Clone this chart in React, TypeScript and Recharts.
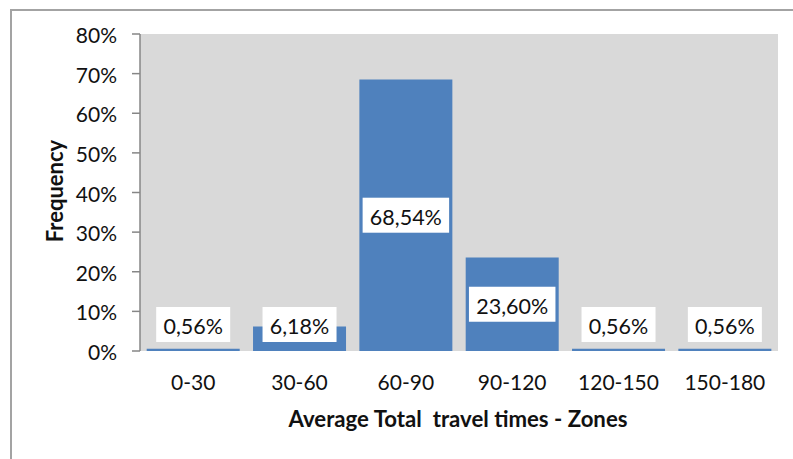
import React from 'react';
import { BarChart, Bar, XAxis, YAxis, CartesianGrid, LabelList, Label } from 'recharts';

// Travel-time zones and the share of trips falling in each
const CATEGORIES = ['0-30', '30-60', '60-90', '90-120', '120-150', '150-180'];
const FREQUENCY = [0.56, 6.18, 68.54, 23.6, 0.56, 0.56];
const Y_TICKS = [0, 10, 20, 30, 40, 50, 60, 70, 80];
// Zone boundaries (0..n) used for the tick marks between categories
const BOUNDARIES = [0, 1, 2, 3, 4, 5, 6];

const data = CATEGORIES.map((zone, i) => ({ zone, freq: FREQUENCY[i] }));

const FONT = 'Lato, "Open Sans", sans-serif';
const AXIS_GRAY = '#868686';
const BAR_BLUE = '#4f81bd';

const fmt = (v: number) => v.toFixed(2).replace('.', ',') + '%';

// rough text width for the label boxes (Lato 21.5px)
const textWidth = (s: string) => {
  let w = 0;
  for (const ch of s) {
    if (ch >= '0' && ch <= '9') w += 12.5;
    else if (ch === ',') w += 4.9;
    else if (ch === '%') w += 16.6;
    else w += 8;
  }
  return w;
};

const ValueLabel = (props: any) => {
  const { x, y, width, height, value } = props;
  const bottom = y + height;
  const cy = Math.min(y + height / 2, bottom - 26.5);
  const text = fmt(Number(value));
  const w = textWidth(text) + 15;
  const cx = x + width / 2;
  return (
    <g>
      <rect x={cx - w / 2} y={cy - 17.5} width={w} height={35} fill="#ffffff" />
      <text x={cx} y={cy + 9.5} textAnchor="middle" fontFamily={FONT} fontSize={21.5} fill="#111">
        {text}
      </text>
    </g>
  );
};

const XTick = (props: any) => {
  const { x, y, payload } = props;
  return (
    <text x={x} y={y + 39} textAnchor="middle" fontFamily={FONT} fontSize={21} fill="#111">
      {payload.value}
    </text>
  );
};

const YTick = (props: any) => {
  const { x, y, payload } = props;
  return (
    <text x={x} y={y + 9} textAnchor="end" fontFamily={FONT} fontSize={21} fill="#111">
      {payload.value}%
    </text>
  );
};

const EmptyTick = () => <g />;

export default function App() {
  return (
    <div style={{ position: 'absolute', left: 0, top: 0, width: 793, height: 459, background: '#fff', overflow: 'hidden' }}>
      <div
        style={{
          position: 'absolute',
          left: 10,
          top: 8.5,
          width: 820,
          height: 480,
          borderLeft: '2px solid #a3a3a3',
          borderTop: '2px solid #a3a3a3',
        }}
      />
      <BarChart
        width={793}
        height={459}
        data={data}
        margin={{ top: 34, right: 15, bottom: 0, left: 0 }}
        barCategoryGap="6.3%"
        style={{ position: 'absolute', left: 0, top: 0 }}
      >
        <CartesianGrid horizontal={false} vertical={false} fill="#d9d9d9" stroke="none" />
        <XAxis
          xAxisId="grid"
          type="number"
          domain={[0, CATEGORIES.length]}
          ticks={BOUNDARIES}
          allowDataOverflow
          height={0}
          tickSize={8}
          tick={EmptyTick}
          axisLine={{ stroke: AXIS_GRAY, strokeWidth: 1.5 }}
          tickLine={{ stroke: AXIS_GRAY, strokeWidth: 1.5 }}
        />
        <XAxis
          xAxisId="cat"
          dataKey="zone"
          height={108}
          interval={0}
          tickSize={0}
          tickMargin={0}
          axisLine={false}
          tickLine={false}
          tick={XTick}
        >
          <Label
            content={(p: any) => {
              const vb = p.viewBox;
              return (
                <text
                  x={vb.x + vb.width / 2 - 1}
                  y={vb.y + 75.5}
                  textAnchor="middle"
                  fontFamily={FONT}
                  fontWeight={700}
                  fontSize={22.2}
                  fill="#111"
                >
                  Average Total{'\u00a0'} travel times - Zones
                </text>
              );
            }}
          />
        </XAxis>
        <YAxis
          width={140}
          domain={[0, 80]}
          ticks={Y_TICKS}
          interval={0}
          tickSize={8}
          tickMargin={15}
          tick={YTick}
          axisLine={{ stroke: AXIS_GRAY, strokeWidth: 1.5 }}
          tickLine={{ stroke: AXIS_GRAY, strokeWidth: 1.5 }}
        >
          <Label
            content={(p: any) => {
              const vb = p.viewBox;
              const cx = 62.5;
              const cy = vb.y + vb.height / 2 - 1.5;
              return (
                <text
                  x={cx}
                  y={cy}
                  transform={`rotate(-90, ${cx}, ${cy})`}
                  textAnchor="middle"
                  fontFamily={FONT}
                  fontWeight={700}
                  fontSize={22}
                  fill="#111"
                >
                  Frequency
                </text>
              );
            }}
          />
        </YAxis>
        <Bar dataKey="freq" xAxisId="cat" fill={BAR_BLUE} isAnimationActive={false}>
          <LabelList dataKey="freq" content={ValueLabel} />
        </Bar>
      </BarChart>
    </div>
  );
}
